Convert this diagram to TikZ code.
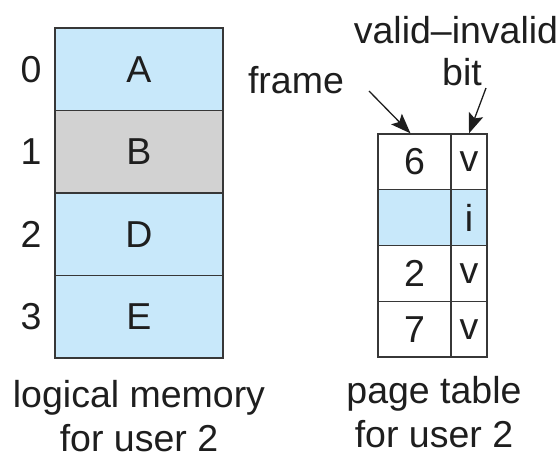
\documentclass[tikz,border=0pt]{standalone}
\usepackage{fontspec}
\setmainfont{Liberation Sans}
\usetikzlibrary{arrows.meta}
\definecolor{lblue}{RGB}{200,232,250}
\definecolor{lgray}{RGB}{210,210,210}
\definecolor{edge}{RGB}{55,55,55}
\definecolor{ink}{RGB}{30,30,30}
\begin{document}
\begin{tikzpicture}[x=1pt,y=-1pt,
  every node/.style={text=ink,font=\fontsize{37.5}{42}\selectfont},
  memcell/.style={draw=edge,line width=1.3pt,inner sep=0pt,minimum width=168pt,minimum height=82.5pt},
  framecell/.style={draw=edge,line width=1.3pt,inner sep=0pt,minimum width=73pt,minimum height=55.75pt},
  bitcell/.style={draw=edge,line width=1.3pt,inner sep=0pt,minimum width=36pt,minimum height=55.75pt},
  lbl/.style={inner sep=0pt},
  ptr/.style={draw=ink,line width=1.3pt,-{Stealth[length=20pt,width=15pt,inset=4pt]}}]
\useasboundingbox (0,0) rectangle (560,458);
% logical memory
\node[memcell,fill=lblue] (mA) at (139,69.25) {A};
\node[memcell,fill=lgray] (mB) at (139,151.75) {B};
\node[memcell,fill=lblue] (mD) at (139,234.25) {D};
\node[memcell,fill=lblue] (mE) at (139,316.75) {E};
\node[lbl] (i0) at (31,69.25) {0};
\node[lbl] (i1) at (31,151.75) {1};
\node[lbl] (i2) at (31,234.25) {2};
\node[lbl] (i3) at (31,316.75) {3};
% page table
\node[framecell,fill=white] (f0) at (414.5,161.9) {6};
\node[bitcell,fill=white] (b0) at (469,161.9) {v};
\node[framecell,fill=lblue] (f1) at (414.5,217.6) {};
\node[bitcell,fill=lblue] (b1) at (469,217.6) {i};
\node[framecell,fill=white] (f2) at (414.5,273.4) {2};
\node[bitcell,fill=white] (b2) at (469,273.4) {v};
\node[framecell,fill=white] (f3) at (414.5,329.1) {7};
\node[bitcell,fill=white] (b3) at (469,329.1) {v};
% labels
\node[lbl] (frame) at (296,80) {frame};
\node[lbl] (vi) at (456,30) {valid–invalid};
\node[lbl] (bit) at (462,72) {bit};
\coordinate (ft) at (369,91);
\coordinate (bt) at (486,88);
\draw[ptr] (ft) -- ([xshift=-4pt]f0.north);
\draw[ptr] (bt) -- (b0.north);
% captions
\node[lbl] (c1) at (139,398) {logical memory};
\node[lbl] (c2) at (139,438) {for user 2};
\node[lbl] (c3) at (434,394) {page table};
\node[lbl] (c4) at (434,434) {for user 2};
\end{tikzpicture}
\end{document}
